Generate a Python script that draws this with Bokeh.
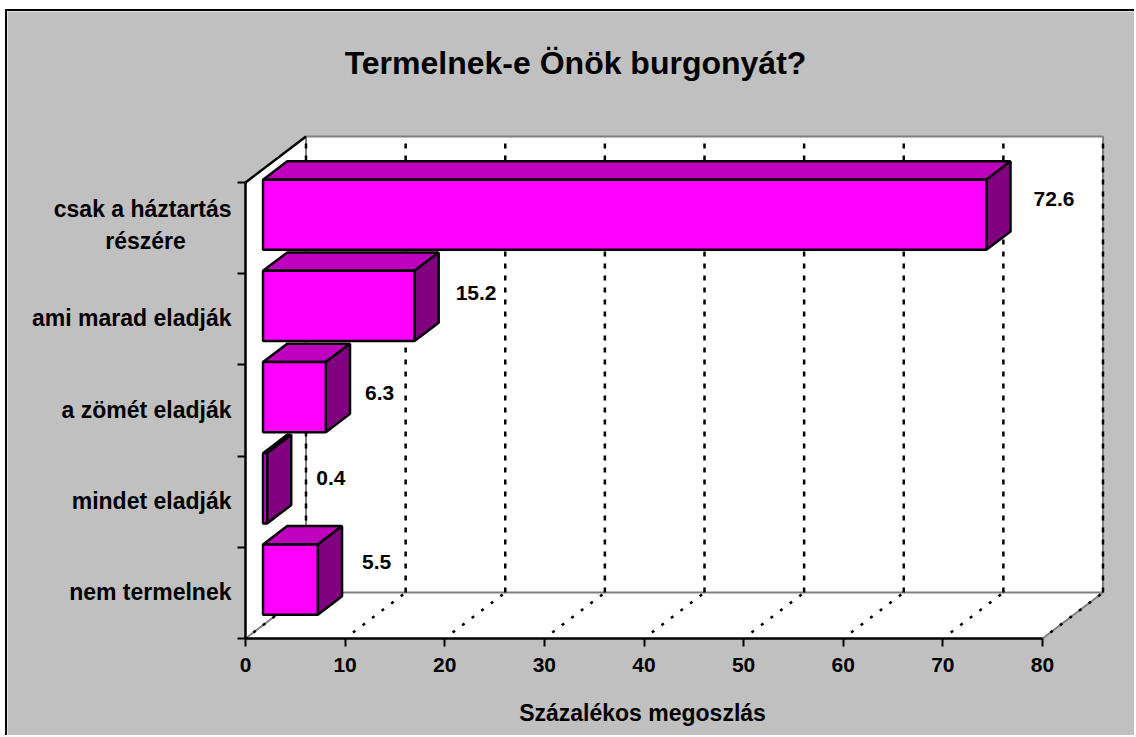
from bokeh.plotting import figure
from bokeh.embed import file_html
from bokeh.resources import INLINE
from bokeh.models import (Range1d, LinearAxis, FixedTicker, Label)
from bokeh.core.properties import value

# ---- data ----
categories = ["nem termelnek", "mindet eladják", "a zömét eladják", "ami marad eladják", "csak a háztartás\nrészére"]
values = [5.5, 0.4, 6.3, 15.2, 72.6]
value_ticks = [0, 10, 20, 30, 40, 50, 60, 70, 80]
title_text = "Termelnek-e Önök burgonyát?"
axis_title = "Százalékos megoszlás"

# ---- label nudges (px) ----
label_dx = [0, 5, -5, -3, 3]
label_dy = [-7, 1, 7, -2, -5]

# ---- layout ----
OX, OY = 7, 11      # where the figure's grey box should appear
W, H = 1129, 726
AX0_X, AX0_Y = 245, 638    # pixel position of the axes' origin
UNIT_X = (1042 - 245) / 80
UNIT_Y = (638 - 182) / 5
DEPTH_X = 60.5 / UNIT_X
DEPTH_Y = 46 / UNIT_Y
BAR_D0, BAR_D1 = 0.29, 0.69
BAR_GAP = 0.115
FLOOR_GAP = 0.13
n = len(categories)
xmax = value_ticks[-1]

FONT = "Liberation Sans"
p = figure(width=W, height=H, output_backend="svg", toolbar_location=None,
           x_range=Range1d(-(AX0_X - OX) / UNIT_X, (OX + W - AX0_X) / UNIT_X),
           y_range=Range1d(-(OY + H - AX0_Y) / UNIT_Y, (AX0_Y - OY) / UNIT_Y),
           x_axis_type=None, y_axis_type=None,
           min_border=0,
           background_fill_color="#C0C0C0", border_fill_color="#C0C0C0",
           outline_line_color=None)
p.styles = {"margin-left": f"{OX - 2}px", "margin-top": f"{OY - 2}px",
            "border-left": "2px solid black", "border-top": "2px solid black"}
p.grid.visible = False

# walls
p.patch([0, xmax, xmax + DEPTH_X, DEPTH_X], [0, 0, DEPTH_Y, DEPTH_Y], fill_color="white", line_color=None)
p.patch([0, DEPTH_X, DEPTH_X, 0], [0, DEPTH_Y, n + DEPTH_Y, n], fill_color="white", line_color=None)
p.patch([DEPTH_X, xmax + DEPTH_X, xmax + DEPTH_X, DEPTH_X], [DEPTH_Y, DEPTH_Y, n + DEPTH_Y, n + DEPTH_Y],
        fill_color="white", line_color=None)
# gray wall edges
p.line([0, DEPTH_X, DEPTH_X, xmax + DEPTH_X, xmax + DEPTH_X, xmax], [0, DEPTH_Y, n + DEPTH_Y, n + DEPTH_Y, DEPTH_Y, 0],
       line_color="#808080", line_width=2)
p.line([DEPTH_X, xmax + DEPTH_X], [DEPTH_Y, DEPTH_Y], line_color="#808080", line_width=2)
p.line([0, DEPTH_X], [n, n + DEPTH_Y], line_color="black", line_width=2.5)

# dotted gridlines
for t in value_ticks:
    p.line([t + DEPTH_X, t + DEPTH_X], [DEPTH_Y, n + DEPTH_Y], line_color="black", line_width=2.5, line_dash="5 7")
    p.line([t + FLOOR_GAP * DEPTH_X, t + DEPTH_X], [FLOOR_GAP * DEPTH_Y, DEPTH_Y],
           line_color="black", line_width=2.5, line_dash="3 9")

# 3D bars
for i, v in enumerate(values):
    b = i + BAR_GAP
    t = i + 1 - BAR_GAP
    x0f = BAR_D0 * DEPTH_X
    y0f = BAR_D0 * DEPTH_Y
    x1f = x0f + v
    dx = (BAR_D1 - BAR_D0) * DEPTH_X
    dy = (BAR_D1 - BAR_D0) * DEPTH_Y
    yb, yt = b + y0f, t + y0f
    p.patch([x0f, x1f, x1f + dx, x0f + dx], [yt, yt, yt + dy, yt + dy], fill_color="#BF00BF", line_color="black", line_width=2.5)
    p.patch([x1f, x1f + dx, x1f + dx, x1f], [yb, yb + dy, yt + dy, yt], fill_color="#800080", line_color="black", line_width=2.5)
    p.patch([x0f, x1f, x1f, x0f], [yb, yb, yt, yt], fill_color="#FF00FF", line_color="black", line_width=2.5)
    p.text([x1f + dx + 20 / UNIT_X], [(yb + yt) / 2 + dy / 2 + 0.02], text=[f"{v:.1f}"],
           x_offset=label_dx[i], y_offset=label_dy[i],
           text_font=value(FONT), text_font_style="bold", text_font_size="21px",
           text_color="black", text_align="left", text_baseline="middle")

# axes (fixed to data position 0 inside the full-figure frame)
xaxis = LinearAxis(ticker=FixedTicker(ticks=value_ticks), bounds=(0, xmax), fixed_location=0,
                   axis_line_color="black", axis_line_width=2.5,
                   major_tick_line_color="black", major_tick_line_width=2,
                   major_tick_in=0, major_tick_out=8, minor_tick_line_color=None,
                   major_label_standoff=11,
                   major_label_text_font=FONT, major_label_text_font_style="bold",
                   major_label_text_font_size="21px", major_label_text_color="black")
p.add_layout(xaxis, "below")

yticks = LinearAxis(ticker=FixedTicker(ticks=list(range(n + 1))), bounds=(0, n), fixed_location=0,
                    axis_line_color="black", axis_line_width=2.5,
                    major_tick_line_color="black", major_tick_line_width=2,
                    major_tick_in=0, major_tick_out=8, minor_tick_line_color=None,
                    major_label_text_font_size="0px", major_label_text_color=None)
p.add_layout(yticks, "left")


def text_label(txt, x_px, y_px, size, align="center"):
    p.add_layout(Label(x=x_px - OX, y=OY + H - y_px, x_units="screen", y_units="screen", text=txt, text_font=FONT,
                       text_font_style="bold", text_font_size=size, text_color="black",
                       text_align=align, text_baseline="middle"))


# category labels, right-aligned to the axis; a two-line label is centred on its longest line
for i, cat in enumerate(categories):
    parts = cat.split("\n")
    yc = AX0_Y - (i + 0.5) * UNIT_Y
    if len(parts) == 1:
        text_label(cat, 231, yc - 1, "23px", "right")
    else:
        text_label(parts[0], 231, yc - 19, "23px", "right")
        text_label(parts[1], 145, yc + 13, "23px", "center")

text_label(title_text, 575, 62, "32px")
text_label(axis_title, 642, 712, "23px")

open("out.html", "w").write(file_html(p, INLINE))
